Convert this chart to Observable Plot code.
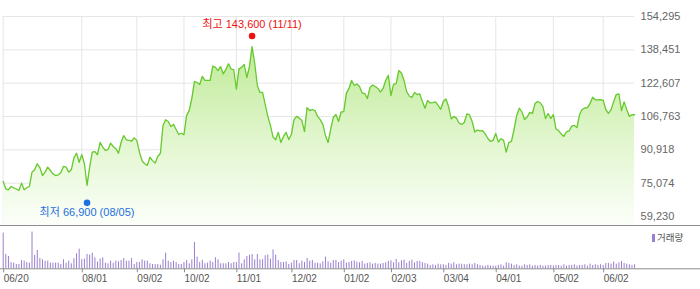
<!DOCTYPE html>
<html><head><meta charset="utf-8">
<script src="https://cdn.jsdelivr.net/npm/d3@7"></script>
<script src="https://cdn.jsdelivr.net/npm/@observablehq/plot@0.6"></script>
<style>
body{margin:0;background:#fff;}
#chart{position:relative;width:700px;height:289px;overflow:hidden;font-family:"Liberation Sans",Arial,"Noto Sans CJK KR",sans-serif;}
#chart svg{display:block;}
#legend{position:absolute;left:652px;top:232px;height:11px;line-height:11px;font-size:9.5px;color:#555;font-family:"Noto Sans CJK KR",sans-serif;white-space:nowrap;}
#legend i{display:inline-block;width:3px;height:8px;background:#9a7fd0;margin-right:2px;vertical-align:-1px;}
</style></head><body>
<div id="chart"><div id="legend"><i></i>거래량</div></div>
<script>
// x-axis tick positions (trading-day index) and labels
const tickDays = [0, 30, 51, 69, 89, 110, 130, 148, 168, 188, 210, 229];
const tickLabels = ["06/20", "08/01", "09/02", "10/02", "11/01", "12/02", "01/02", "02/03", "03/04", "04/01", "05/02", "06/02"];
// price axis ticks
const priceTicks = [59230, 75074, 90918, 106763, 122607, 138451, 154295];
// daily closing prices
const closes = [
75900,72400,71900,73500,72800,72300,71600,75100,71900,72900,
73500,80300,81400,84300,82500,78700,80300,82700,81100,79500,
78700,79000,80100,83000,82700,80300,81400,87100,89300,85000,
88600,84300,74000,82700,89800,90100,88600,94500,92200,90600,
91100,94100,92500,91400,89300,94400,97700,95700,95400,95000,
96600,95400,89800,85800,84300,83500,87400,85800,84600,87700,
89300,102500,105200,104400,102000,103000,100600,98200,98800,98100,
107200,109600,115300,123400,122900,122000,125800,123900,123900,123900,
130700,130100,128600,130500,127000,129100,131800,129300,129000,119800,
129400,130100,131500,125300,130500,140000,132000,121500,118200,118200,
112500,106800,102500,97000,95700,99200,94400,97300,99200,95800,
98200,105300,106800,106000,104900,99600,111000,109600,110100,109600,
106800,105300,103000,97700,94400,100600,106300,107700,104400,108900,
109100,117900,120100,123900,121500,122200,121000,117900,117700,115300,
120500,121700,121000,120100,118400,120100,123900,126300,116700,122000,
122400,128600,127400,123900,118600,116500,115800,118200,117200,117500,
113900,110700,114400,113200,113400,113700,112000,110200,113900,115100,
111500,105600,106800,106000,103700,103000,103900,108000,107500,104400,
99400,100300,99900,100100,98400,96300,94900,95400,98700,94600,
96200,95400,89800,94400,94900,100600,107200,110700,108900,105300,
106500,108700,108200,112900,113900,113300,111500,105800,108200,105800,
107700,100800,100100,98400,97300,99500,99900,102200,102500,101500,
107700,110100,110800,111000,112900,115900,114700,114700,114800,114400,
110100,108200,109900,113700,117200,117500,109600,113700,110100,106800,
107600,107600
];
// daily trading volume (relative units)
const volumes = [
1070,430,370,190,170,130,130,250,230,190,
170,1100,400,550,310,270,230,230,170,170,
170,170,130,270,170,230,150,300,450,590,
270,290,430,410,470,330,200,290,330,170,
150,230,170,230,210,250,310,230,230,310,
130,190,190,270,230,230,150,130,130,130,
110,270,470,230,190,230,190,130,130,190,
250,150,270,790,350,190,250,150,170,230,
190,330,270,150,150,150,190,150,190,190,
470,150,270,370,410,430,270,430,270,270,
390,410,290,570,410,250,190,190,210,130,
170,250,250,150,230,190,310,230,250,170,
170,150,210,350,210,170,250,250,190,230,
270,170,190,220,240,200,180,220,140,160,
180,140,160,140,140,160,180,220,240,180,
280,180,240,260,160,220,260,180,220,220,
180,160,140,100,120,100,140,120,120,100,
160,140,180,120,140,140,120,120,140,120,
160,120,100,80,80,100,80,80,80,100,
120,80,180,160,140,100,120,80,80,120,
100,120,80,100,80,100,80,80,100,100,
80,100,100,80,120,80,100,100,120,80,
100,100,120,80,140,100,120,100,120,100,
160,160,140,200,140,180,220,160,140,120,
100,120
];
const highPoint = {day: 95, value: 143600, label: "최고 143,600 (11/11)"};
const lowPoint = {day: 32, value: 66900, label: "최저 66,900 (08/05)"};

const priceData = closes.map((v, i) => ({i, v}));
const step = priceTicks[1] - priceTicks[0];
const yLow = priceTicks[0] - 0.27 * step;
const lastDay = closes.length - 1;

const gradient = () => {
  const defs = d3.create("svg:defs");
  const g = defs.append("linearGradient").attr("id", "pg")
    .attr("gradientUnits", "userSpaceOnUse")
    .attr("x1", 0).attr("x2", 0).attr("y1", 40).attr("y2", 225);
  g.append("stop").attr("offset", "0").attr("stop-color", "#bdea93");
  g.append("stop").attr("offset", "0.55").attr("stop-color", "#e2f6cf");
  g.append("stop").attr("offset", "1").attr("stop-color", "#fcfffa");
  return defs.node();
};

const priceChart = Plot.plot({
  width: 700, height: 225,
  marginLeft: 2.7, marginRight: 65.9, marginTop: 16, marginBottom: 0,
  style: {fontFamily: '"Liberation Sans", Arial, "Noto Sans CJK KR", sans-serif', color: "#666", background: "#fff"},
  x: {domain: [0, lastDay], axis: null},
  y: {domain: [yLow, priceTicks[priceTicks.length - 1]], axis: null},
  marks: [
    gradient,
    Plot.ruleY(priceTicks, {stroke: "#e6e6e6"}),
    Plot.ruleX(tickDays, {stroke: "#e6e6e6"}),
    Plot.areaY(priceData, {x: "i", y1: yLow, y2: "v", fill: "url(#pg)"}),
    Plot.lineY(priceData, {x: "i", y: "v", stroke: "#66c92e", strokeWidth: 1.3}),
    Plot.axisY(priceTicks, {anchor: "right", tickSize: 0, tickPadding: 6, tickFormat: d3.format(","), fontSize: 11, fill: "#666", label: null}),
    Plot.dot([highPoint], {x: "day", y: "value", r: 3.3, fill: "#ee1111", stroke: null, dy: -3}),
    Plot.text([highPoint], {x: "day", y: "value", text: "label", fill: "#ee1111", fontSize: 11, dy: -14.5}),
    Plot.dot([lowPoint], {x: "day", y: "value", r: 3.3, fill: "#1f6fe0", stroke: null, dy: 2.5}),
    Plot.text([lowPoint], {x: "day", y: "value", text: "label", fill: "#1f6fe0", fontSize: 11, dy: 12})
  ]
});

const volumeChart = Plot.plot({
  width: 700, height: 63,
  marginLeft: 0, marginRight: 0, marginTop: 5.6, marginBottom: 20.7,
  style: {fontFamily: '"Liberation Sans", Arial, sans-serif', color: "#555", background: "#fff", borderTop: "1px solid #8c8c8c"},
  x: {domain: [0, lastDay], range: [2.7, 634.1], axis: null},
  y: {domain: [0, d3.max(volumes)], axis: null},
  marks: [
    Plot.ruleX(volumes, {x: (d, i) => i, y: d => d, stroke: "#9a7fd0", strokeWidth: 1}),
    Plot.ruleY([0], {stroke: "#8c8c8c"}),
    Plot.axisX(tickDays, {tickSize: 4, tickPadding: 2, textAnchor: "start", dx: 0.5, stroke: "#8c8c8c", fill: "#555", fontSize: 10,
      tickFormat: d => tickLabels[tickDays.indexOf(d)], label: null})
  ]
});

const chart = document.getElementById("chart");
chart.insertBefore(volumeChart, chart.firstChild);
chart.insertBefore(priceChart, chart.firstChild);
</script>
</body></html>
